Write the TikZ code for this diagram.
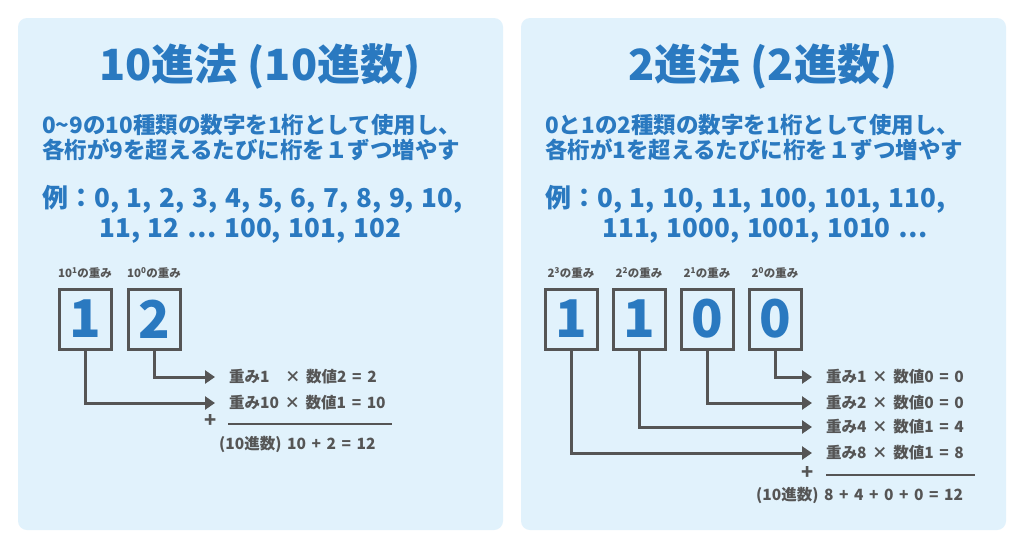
\documentclass[tikz,border=0pt]{standalone}
\usepackage{fontspec}
\setmainfont{Noto Sans CJK JP}
\usetikzlibrary{arrows.meta}
\definecolor{pan}{HTML}{E1F2FC}
\definecolor{blu}{HTML}{2A79C0}
\definecolor{gr}{HTML}{555555}
\newcommand\mywsp{\spaceskip=0.36em\relax}
\newcommand\myexsp{\spaceskip=0.3em\relax}
\begin{document}
\begin{tikzpicture}[x=1pt,y=-1pt,
 panel/.style={fill=pan,draw=none,rounded corners=9pt},
 ttl/.style={text=blu,font=\fontsize{43}{43}\selectfont\bfseries},
 sub/.style={text=blu,font=\fontsize{22.5}{25}\selectfont\bfseries,anchor=north west,align=left,inner sep=0},
 ex/.style={text=blu,font=\fontsize{26}{30}\selectfont\bfseries,execute at begin node=\myexsp,anchor=north west,align=left,inner sep=0},
 dig/.style={draw=gr,line width=3pt,minimum width=52pt,minimum height=60pt,text=blu,font=\fontsize{52}{52}\selectfont\bfseries,inner sep=0},
 wl/.style={text=gr,font=\fontsize{11.5}{11.5}\selectfont\bfseries,inner sep=0},
 eq/.style={text=gr,font=\fontsize{15.5}{15.5}\selectfont\bfseries,execute at begin node=\mywsp,anchor=west,inner sep=0},
 con/.style={draw=gr,line width=3pt,-{Triangle[length=10pt,width=13pt]}},
 rule/.style={draw=gr,line width=1.3pt}]
\useasboundingbox (0,0) rectangle (1024,547);
\fill[white] (0,0) rectangle (1024,547);
\path[panel] (18,18) rectangle (503,530);
\path[panel] (521,18) rectangle (1006,530);
% left
\node[ttl] (t1) at (260,66) {10進法 (10進数)};
\node[sub] (s1) at (42,114) {0\char"7E 9の10種類の数字を1桁として使用し、\\各桁が9を超えるたびに桁を１ずつ増やす};
\node[ex] (e1) at (42,185) {例：0, 1, 2, 3, 4, 5, 6, 7, 8, 9, 10,\\\hspace{2.2em}11, 12 … 100, 101, 102};
\node[dig] (a1) at (85,319) {1};
\node[dig] (a2) at (154,319) {2};
\node[wl] (w1) at (85,273) {10\textsuperscript{1}の重み};
\node[wl] (w2) at (154,273) {10\textsuperscript{0}の重み};
\node[eq] (q2) at (229,377) {重み1\hspace{1em}× 数値2 = 2};
\node[eq] (q1) at (229,403) {重み10 × 数値1 = 10};
\coordinate (h2) at (215,377);
\coordinate (h1) at (215,403);
\draw[con] (a2.south) |- (h2);
\draw[con] (a1.south) |- (h1);
\node[eq,anchor=center,font=\fontsize{20}{20}\selectfont\bfseries] (p1) at (211,421) {+};
\coordinate (r1a) at (228,424); \coordinate (r1b) at (392,424);
\draw[rule] (r1a) -- (r1b);
\node[eq] (res1) at (219,444) {(10進数) 10 + 2 = 12};
% right
\node[ttl] (t2) at (763,66) {2進法 (2進数)};
\node[sub] (s2) at (545,114) {0と1の2種類の数字を1桁として使用し、\\各桁が1を超えるたびに桁を１ずつ増やす};
\node[ex] (e2) at (545,185) {例：0, 1, 10, 11, 100, 101, 110,\\\hspace{2.2em}111, 1000, 1001, 1010 …};
\node[dig] (b1) at (571,319) {1};
\node[dig] (b2) at (639,319) {1};
\node[dig] (b3) at (707,319) {0};
\node[dig] (b4) at (775,319) {0};
\node[wl] (v1) at (571,273) {2\textsuperscript{3}の重み};
\node[wl] (v2) at (639,273) {2\textsuperscript{2}の重み};
\node[wl] (v3) at (707,273) {2\textsuperscript{1}の重み};
\node[wl] (v4) at (775,273) {2\textsuperscript{0}の重み};
\node[eq] (r4) at (826,377) {重み1 × 数値0 = 0};
\node[eq] (r3) at (826,403) {重み2 × 数値0 = 0};
\node[eq] (r2) at (826,427) {重み4 × 数値1 = 4};
\node[eq] (r1) at (826,453) {重み8 × 数値1 = 8};
\coordinate (k4) at (812,377);
\coordinate (k3) at (812,403);
\coordinate (k2) at (812,427);
\coordinate (k1) at (812,453);
\draw[con] (b4.south) |- (k4);
\draw[con] (b3.south) |- (k3);
\draw[con] (b2.south) |- (k2);
\draw[con] (b1.south) |- (k1);
\node[eq,anchor=center,font=\fontsize{20}{20}\selectfont\bfseries] (p2) at (808,473) {+};
\coordinate (r2a) at (826,475); \coordinate (r2b) at (975,475);
\draw[rule] (r2a) -- (r2b);
\node[eq] (res2) at (756,495) {(10進数) 8 + 4 + 0 + 0 = 12};
\end{tikzpicture}
\end{document}
